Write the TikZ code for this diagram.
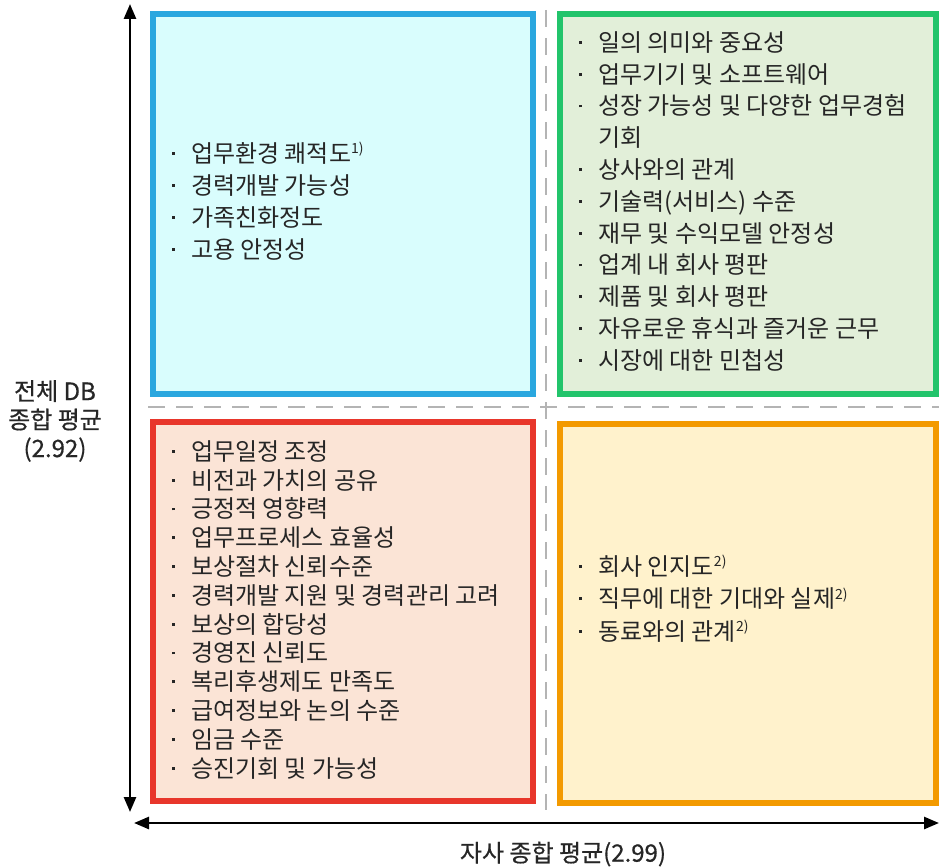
\documentclass[tikz,border=0pt]{standalone}
\usepackage{fontspec}
\setmainfont{Noto Sans CJK KR}
\newfontfamily\labfont{Noto Sans CJK KR}[FakeBold=0.6]
\usetikzlibrary{arrows.meta}
\definecolor{bluebd}{HTML}{2AA7DF}
\definecolor{bluefl}{HTML}{D9FDFD}
\definecolor{greenbd}{HTML}{22C46B}
\definecolor{greenfl}{HTML}{E2EFD9}
\definecolor{redbd}{HTML}{E8362B}
\definecolor{redfl}{HTML}{FBE4D6}
\definecolor{orangebd}{HTML}{F39A00}
\definecolor{orangefl}{HTML}{FFF2CC}
\definecolor{txt}{HTML}{262626}
\definecolor{dashgray}{HTML}{B4B4B4}
\newcommand\bul{\raisebox{7.5pt}{\rule{2.8pt}{2.8pt}}}
\newcommand\fn[1]{\raisebox{8.5pt}{\fontsize{14}{14}\selectfont #1}}
\begin{document}
\begin{tikzpicture}[x=1pt,y=-1pt,
  quad/.style={line width=6pt},
  listtext/.style={anchor=west,inner sep=0pt,text=txt},
  axislabel/.style={text=txt,inner sep=0pt,align=center,font=\labfont\fontsize{24}{28.5}\selectfont},
  axisarrow/.style={line width=2.6pt,{Triangle[length=15pt,width=12pt]}-{Triangle[length=15pt,width=12pt]}},
  divider/.style={dashgray,line width=2.6pt,dash pattern=on 17pt off 11pt}
]
\useasboundingbox (0,0) rectangle (939,867);
% quadrants
\draw[quad,draw=bluebd,fill=bluefl] (153,14) rectangle (533,394);
\draw[quad,draw=greenbd,fill=greenfl] (560,14) rectangle (936,394);
\draw[quad,draw=redbd,fill=redfl] (153,422) rectangle (533,801);
\draw[quad,draw=orangebd,fill=orangefl] (560,424) rectangle (936,803);
% dividers
\coordinate (vdt) at (546,10);
\coordinate (vdb) at (546,810);
\coordinate (hdl) at (148,407);
\coordinate (hdr) at (939,407);
\draw[divider] (vdt) -- (vdb);
\draw[divider] (hdl) -- (hdr);
% axes
\coordinate (ytop) at (130,4);
\coordinate (ybot) at (130,812);
\coordinate (xl) at (134,823);
\coordinate (xr) at (939,823);
\draw[axisarrow] (ytop) -- (ybot);
\draw[axisarrow] (xl) -- (xr);
\node[axislabel] (ylab) at (55,421) {전체 DB\\종합 평균\\(2.92)};
\node[axislabel] (xlab) at (563,854) {자사 종합 평균(2.99)};
% lists
\node[listtext] (bluelist) at (172,204) {\fontsize{24}{32}\selectfont
\begin{tabular}{@{}p{19pt}@{}l@{}}
\bul & 업무환경 쾌적도\fn{1)}\\
\bul & 경력개발 가능성\\
\bul & 가족친화정도\\
\bul & 고용 안정성
\end{tabular}};
\node[listtext] (greenlist) at (579,204) {\fontsize{24}{31.8}\selectfont
\begin{tabular}{@{}p{19pt}@{}l@{}}
\bul & 일의 의미와 중요성\\
\bul & 업무기기 및 소프트웨어\\
\bul & 성장 가능성 및 다양한 업무경험\\
 & 기회\\
\bul & 상사와의 관계\\
\bul & 기술력(서비스) 수준\\
\bul & 재무 및 수익모델 안정성\\
\bul & 업계 내 회사 평판\\
\bul & 제품 및 회사 평판\\
\bul & 자유로운 휴식과 즐거운 근무\\
\bul & 시장에 대한 민첩성
\end{tabular}};
\node[listtext] (redlist) at (172,613) {\fontsize{24}{28.8}\selectfont
\begin{tabular}{@{}p{19pt}@{}l@{}}
\bul & 업무일정 조정\\
\bul & 비전과 가치의 공유\\
\bul & 긍정적 영향력\\
\bul & 업무프로세스 효율성\\
\bul & 보상절차 신뢰수준\\
\bul & 경력개발 지원 및 경력관리 고려\\
\bul & 보상의 합당성\\
\bul & 경영진 신뢰도\\
\bul & 복리후생제도 만족도\\
\bul & 급여정보와 논의 수준\\
\bul & 임금 수준\\
\bul & 승진기회 및 가능성
\end{tabular}};
\node[listtext] (orangelist) at (579,601) {\fontsize{24}{32.5}\selectfont
\begin{tabular}{@{}p{19pt}@{}l@{}}
\bul & 회사 인지도\fn{2)}\\
\bul & 직무에 대한 기대와 실제\fn{2)}\\
\bul & 동료와의 관계\fn{2)}
\end{tabular}};
\end{tikzpicture}
\end{document}
